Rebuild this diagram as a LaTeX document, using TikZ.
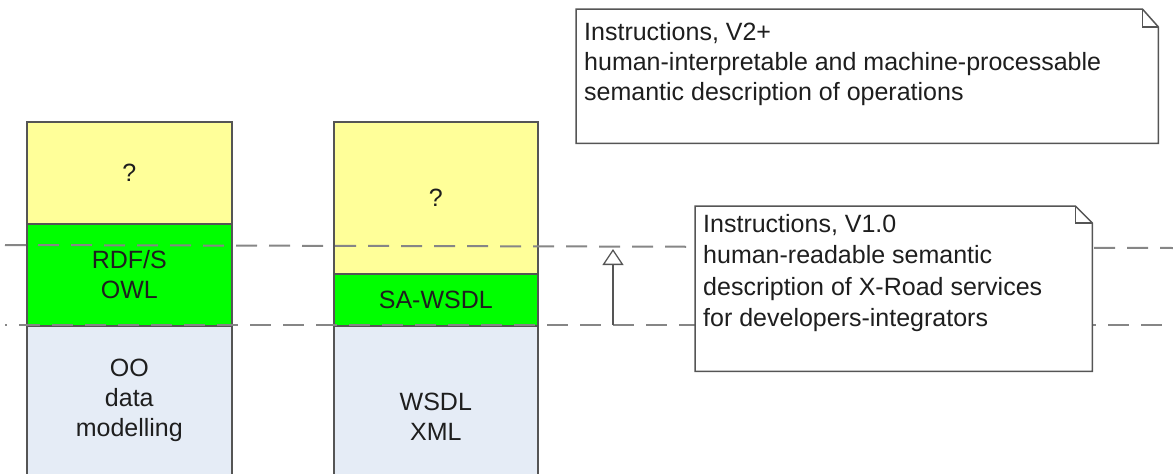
\documentclass[tikz,border=0pt]{standalone}
\usepackage{fontspec}
\setmainfont{Liberation Sans}
\usetikzlibrary{arrows.meta,calc}

\definecolor{paleyellow}{HTML}{FFFF99}
\definecolor{brightgreen}{HTML}{00FF00}
\definecolor{paleblue}{HTML}{E5ECF6}
\definecolor{edgegray}{HTML}{555555}
\definecolor{dashgray}{HTML}{868686}
\definecolor{inkgray}{HTML}{1E1E1E}

\begin{document}
\begin{tikzpicture}[x=1pt,y=-1pt,
  every node/.style={font=\fontsize{25}{30}\selectfont, text=inkgray},
  cell/.style={draw=edgegray, line width=1.6pt, anchor=north west,
    inner sep=0pt, align=center},
  levelline/.style={draw=dashgray, line width=2pt, dash pattern=on 21pt off 12pt},
  noteline/.style={draw=edgegray, line width=1.5pt, line join=miter},
  notetext/.style={anchor=north west, inner sep=0pt, align=left},
  holder/.style={anchor=north west, inner sep=0pt, draw=none}
]
\useasboundingbox (0,0) rectangle (1173,474);

% left stack
\node[cell, fill=paleyellow, minimum width=205pt, minimum height=102pt] (lq) at (26,121) {?};
\node[cell, fill=brightgreen, minimum width=205pt, minimum height=102pt] (lrdf) at (26,223) {RDF/S\\OWL};
\node[cell, fill=paleblue, minimum width=205pt, minimum height=150pt] (loo) at (26,325) {OO\\data\\modelling};

% right stack
\node[cell, fill=paleyellow, minimum width=204pt, minimum height=152pt] (rq) at (333,121) {?};
\node[cell, fill=brightgreen, minimum width=204pt, minimum height=52pt] (rsa) at (333,273) {SA-WSDL};
\node[cell, fill=paleblue, minimum width=204pt, minimum height=182pt] (rws) at (333,325) {WSDL\\XML};

% level lines
\coordinate (upA) at (5,245);
\coordinate (upB) at (1173,248);
\coordinate (loA) at (5,325);
\coordinate (loB) at (1173,325);
\draw[levelline] (upA) -- (upB);
\draw[levelline, dash phase=19pt] (loA) -- (loB);

% upgrade arrow
\coordinate (arLo) at (613,325);
\coordinate (arHi) at (613,249);
\draw[draw=edgegray, line width=1.3pt, -{Triangle[open, length=16pt, width=21pt]}] (arLo) -- (arHi);

% note V2+
\node[holder, minimum width=582pt, minimum height=134pt] (nb) at (576,9) {};
\filldraw[noteline, fill=white] (nb.north west) -- ($(nb.north east)+(-16,0)$) -- ($(nb.north east)+(0,18)$)
  -- (nb.south east) -- (nb.south west) -- cycle;
\draw[noteline] ($(nb.north east)+(-16,0)$) -- ($(nb.north east)+(-16,18)$) -- ($(nb.north east)+(0,18)$);
\node[notetext] (nbt) at ($(nb.north west)+(8,13)$) {Instructions, V2+\\human-interpretable and machine-processable\\semantic description of operations};

% note V1.0
\node[holder, minimum width=397pt, minimum height=165pt] (na) at (695,206) {};
\filldraw[noteline, fill=white] (na.north west) -- ($(na.north east)+(-17,0)$) -- ($(na.north east)+(0,17)$)
  -- (na.south east) -- (na.south west) -- cycle;
\draw[noteline] ($(na.north east)+(-17,0)$) -- ($(na.north east)+(-17,17)$) -- ($(na.north east)+(0,17)$);
\node[notetext, font=\fontsize{25}{31.5}\selectfont] (nat) at ($(na.north west)+(8,8)$) {Instructions, V1.0\\human-readable semantic\\description of X-Road services\\for developers-integrators};
\end{tikzpicture}
\end{document}
